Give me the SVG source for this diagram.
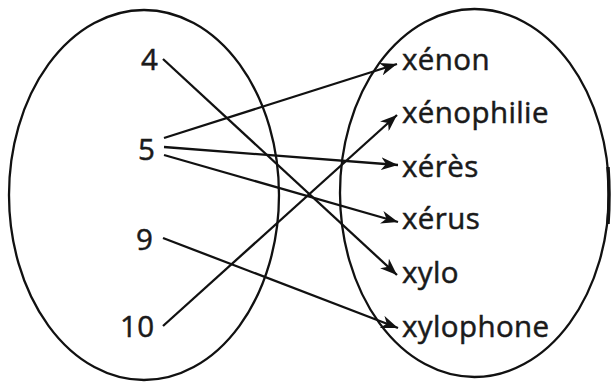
<svg xmlns="http://www.w3.org/2000/svg" width="613" height="382" viewBox="0 0 613 382">
  <style>
    .set { fill: none; stroke: #111; stroke-width: 2.3; }
    .lbl { font-family: "Open Sans", "Noto Sans", sans-serif; font-size: 29.5px; letter-spacing: 0.4px; fill: #1a1a1a; stroke: #1a1a1a; stroke-width: 0.5; }
    .edge { fill: none; stroke: #111; stroke-width: 2.3; marker-end: url(#head); }
  </style>
  <defs>
    <marker id="head" markerUnits="userSpaceOnUse" markerWidth="19" markerHeight="13" refX="17" refY="6.5" orient="auto">
      <path d="M0,0 L17,6.5 L0,13 L5,6.5 z" fill="#111"/>
    </marker>
  </defs>

  <!-- domain set -->
  <g id="set-left">
    <ellipse class="set" cx="144" cy="195" rx="135" ry="185"/>
  </g>
  <!-- codomain set -->
  <g id="set-right">
    <ellipse class="set" cx="474.5" cy="193" rx="134.5" ry="184"/>
    <path d="M608,167 Q610,195 608,224" fill="none" stroke="#111" stroke-width="3.5"/>
  </g>

  <g id="n4"><text class="lbl" x="141" y="70">4</text></g>
  <g id="n5"><text class="lbl" x="138" y="160">5</text></g>
  <g id="n9"><text class="lbl" x="136" y="250">9</text></g>
  <g id="n10"><text class="lbl" x="120" y="337">10</text></g>

  <g id="w-xenon"><text class="lbl" x="402" y="70">xénon</text></g>
  <g id="w-xenophilie"><text class="lbl" x="402" y="123">xénophilie</text></g>
  <g id="w-xeres"><text class="lbl" x="402" y="177">xérès</text></g>
  <g id="w-xerus"><text class="lbl" x="402" y="229">xérus</text></g>
  <g id="w-xylo"><text class="lbl" x="402" y="283">xylo</text></g>
  <g id="w-xylophone"><text class="lbl" x="402" y="337">xylophone</text></g>

  <g id="connectors">
    <line class="edge" x1="163" y1="59" x2="397" y2="275"/>
    <line class="edge" x1="164" y1="138" x2="397" y2="64"/>
    <line class="edge" x1="164" y1="147" x2="398" y2="165"/>
    <line class="edge" x1="164" y1="155" x2="398" y2="222"/>
    <line class="edge" x1="163" y1="238" x2="398" y2="328"/>
    <line class="edge" x1="163" y1="326" x2="397" y2="115"/>
  </g>
</svg>
